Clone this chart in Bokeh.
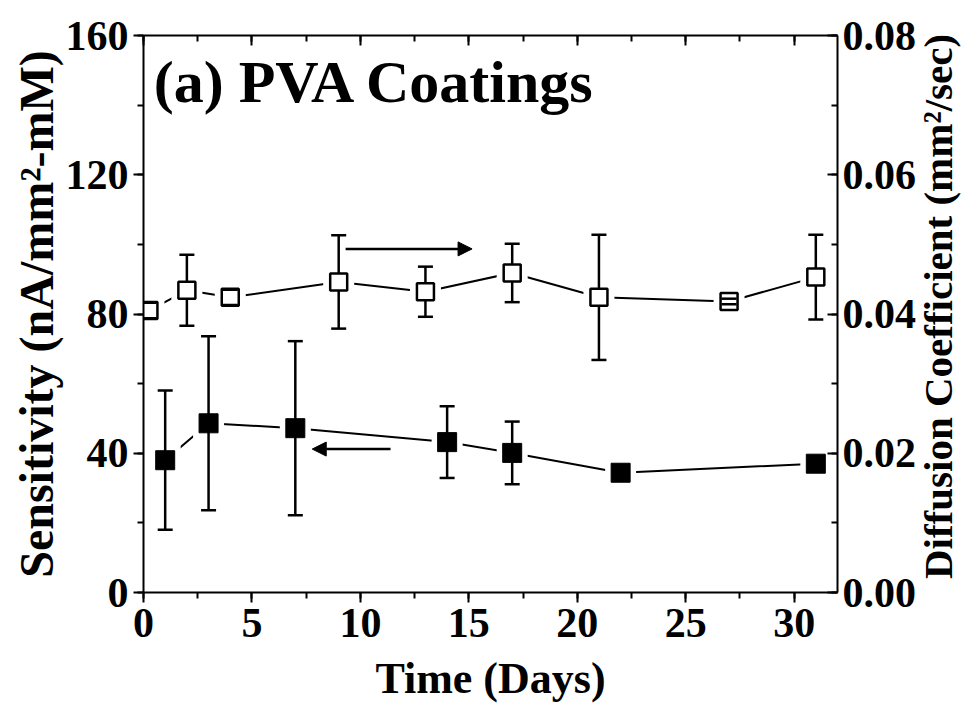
import math
from bokeh.plotting import figure
from bokeh.layouts import row
from bokeh.models import (Range1d, LinearAxis, SingleIntervalTicker, NumeralTickFormatter,
                          ColumnDataSource, Label, Arrow, NormalHead, CustomJSTickFormatter)
from bokeh.embed import file_html
from bokeh.resources import INLINE

# ---- data ----
sens_days = [1, 3, 7, 14, 17, 22, 31]
sens_vals = [38.0, 48.6, 47.2, 43.2, 40.1, 34.4, 37.0]
sens_errs = [20.0, 25.0, 25.0, 10.3, 9.0, 1.0, 1.0]

diff_days = [0.25, 2, 4, 9, 13, 17, 21, 27, 31]
diff_vals = [0.0405, 0.0434, 0.0424, 0.0446, 0.0432, 0.0459, 0.0424, 0.0418, 0.0453]
diff_errs = [0.0011, 0.0051, 0.0011, 0.0067, 0.0036, 0.0042, 0.0090, 0.0004, 0.0061]

x_ticks_interval = 5
left_ticks_interval = 40
right_ticks_interval = 0.02

# annotation arrows (data units: x in days, y in sensitivity units)
arrow_right = dict(x0=9.32, x1=15.15, y=98.7)
arrow_left = dict(x0=11.39, x1=7.78, y=41.2)

title_text = "(a) PVA Coatings"
x_label = "Time (Days)"
y_label = "Sensitivity (nA/mm\u00b2-mM)"
y2_label = "Diffusion Coefficient (mm\u00b2/sec)"

FONT = "Liberation Serif"
H = 705
MAIN_W = 921
SIDE_W = 40

s_src = ColumnDataSource(dict(x=sens_days, y=sens_vals,
                              lo=[v - e for v, e in zip(sens_vals, sens_errs)],
                              hi=[v + e for v, e in zip(sens_vals, sens_errs)]))
d_src = ColumnDataSource(dict(x=diff_days, y=diff_vals,
                              lo=[v - e for v, e in zip(diff_vals, diff_errs)],
                              hi=[v + e for v, e in zip(diff_vals, diff_errs)]))

p = figure(width=MAIN_W, height=H, x_range=Range1d(0, 32), y_range=Range1d(0, 160),
           output_backend="svg", toolbar_location=None,
           min_border_left=143, min_border_right=MAIN_W - 837, min_border_top=35,
           min_border_bottom=H - 594)
p.extra_y_ranges = {"diff": Range1d(0, 0.08)}
p.outline_line_color = None
p.xgrid.visible = False
p.ygrid.visible = False
p.background_fill_color = "white"
p.border_fill_color = "white"

def style_axis(ax, out=True):
    ax.axis_line_width = 2
    ax.axis_line_color = "black"
    ax.major_tick_line_width = 2
    ax.minor_tick_line_width = 2
    if out:
        ax.major_tick_out = 10
        ax.major_tick_in = 0
        ax.minor_tick_out = 6
        ax.minor_tick_in = 0
    else:
        ax.major_tick_out = 0
        ax.major_tick_in = 10
        ax.minor_tick_out = 0
        ax.minor_tick_in = 6
    ax.major_label_text_font = FONT
    ax.major_label_text_font_style = "bold"
    ax.major_label_text_font_size = "42px"
    ax.major_label_text_color = "black"
    ax.axis_label_text_font = FONT
    ax.axis_label_text_font_style = "bold"
    ax.axis_label_text_color = "black"

xa = p.xaxis[0]
xa.ticker = SingleIntervalTicker(interval=x_ticks_interval, num_minor_ticks=2)
style_axis(xa, True)
xa.major_label_standoff = 6
xa.axis_label = x_label
xa.axis_label_text_font_size = "44px"
xa.axis_label_standoff = 14

ya = p.yaxis[0]
ya.ticker = SingleIntervalTicker(interval=left_ticks_interval, num_minor_ticks=2)
style_axis(ya, True)
ya.major_label_standoff = 5
ya.axis_label = y_label
ya.axis_label_text_font_size = "48px"
ya.axis_label_standoff = 0

top = LinearAxis(ticker=SingleIntervalTicker(interval=x_ticks_interval, num_minor_ticks=2),
                 formatter=CustomJSTickFormatter(code="return ''"))
style_axis(top, False)
top.major_label_text_font_size = "0px"
p.add_layout(top, "above")

right = LinearAxis(y_range_name="diff",
                   ticker=SingleIntervalTicker(interval=right_ticks_interval, num_minor_ticks=2),
                   formatter=NumeralTickFormatter(format="0.00"))
style_axis(right, False)
right.major_label_standoff = 5
p.add_layout(right, "right")

# connecting lines
p.line("x", "y", source=s_src, line_color="black", line_width=2)
p.line("x", "y", source=d_src, line_color="black", line_width=2, y_range_name="diff")

# white halos to create gaps between lines and markers
p.scatter("x", "y", source=s_src, marker="square", size=31, fill_color="white", line_color=None)
p.scatter("x", "y", source=d_src, marker="square", size=31, fill_color="white", line_color=None,
          y_range_name="diff")

# error bar stems
p.segment(x0="x", y0="lo", x1="x", y1="hi", source=s_src, line_color="black", line_width=2.5)
p.segment(x0="x", y0="lo", x1="x", y1="hi", source=d_src, line_color="black", line_width=2.5,
          y_range_name="diff")

# markers
p.scatter("x", "y", source=s_src, marker="square", size=19, fill_color="black",
          line_color="black", line_width=1)
p.scatter("x", "y", source=d_src, marker="square", size=17, fill_color="white",
          line_color="black", line_width=2.5, y_range_name="diff")

# error bar caps
for col in ("lo", "hi"):
    p.scatter("x", col, source=s_src, marker="dash", size=15, line_color="black", line_width=2.5)
    p.scatter("x", col, source=d_src, marker="dash", size=15, line_color="black", line_width=2.5,
              y_range_name="diff")

# arrows
p.add_layout(Arrow(end=NormalHead(size=14, fill_color="black", line_color="black", line_width=1),
                   x_start=arrow_right["x0"], y_start=arrow_right["y"],
                   x_end=arrow_right["x1"], y_end=arrow_right["y"],
                   line_color="black", line_width=2.5))
p.add_layout(Arrow(end=NormalHead(size=14, fill_color="black", line_color="black", line_width=1),
                   x_start=arrow_left["x0"], y_start=arrow_left["y"],
                   x_end=arrow_left["x1"], y_end=arrow_left["y"],
                   line_color="black", line_width=2.5))

# panel title inside the frame
p.add_layout(Label(x=0.47, y=146.5, text=title_text, text_font=FONT, text_font_style="bold",
                   text_font_size="60px", text_color="black", text_baseline="alphabetic",
                   text_align="left"))

# narrow side panel carrying the right-hand axis title (reads bottom-to-top)
q = figure(width=SIDE_W, height=H, x_range=Range1d(0, SIDE_W), y_range=Range1d(0, H),
           output_backend="svg", toolbar_location=None, min_border=0,
           x_axis_location=None, y_axis_location=None)
q.outline_line_color = None
q.xgrid.visible = False
q.ygrid.visible = False
q.background_fill_color = "white"
q.border_fill_color = "white"
q.add_layout(Label(x=16, y=H - 343, text=y2_label, text_font=FONT, text_font_style="bold",
                   text_font_size="41px", text_color="black", text_baseline="middle",
                   text_align="center", angle=math.pi / 2))

layout = row(p, q, spacing=0)
open("out.html", "w").write(file_html(layout, INLINE))
